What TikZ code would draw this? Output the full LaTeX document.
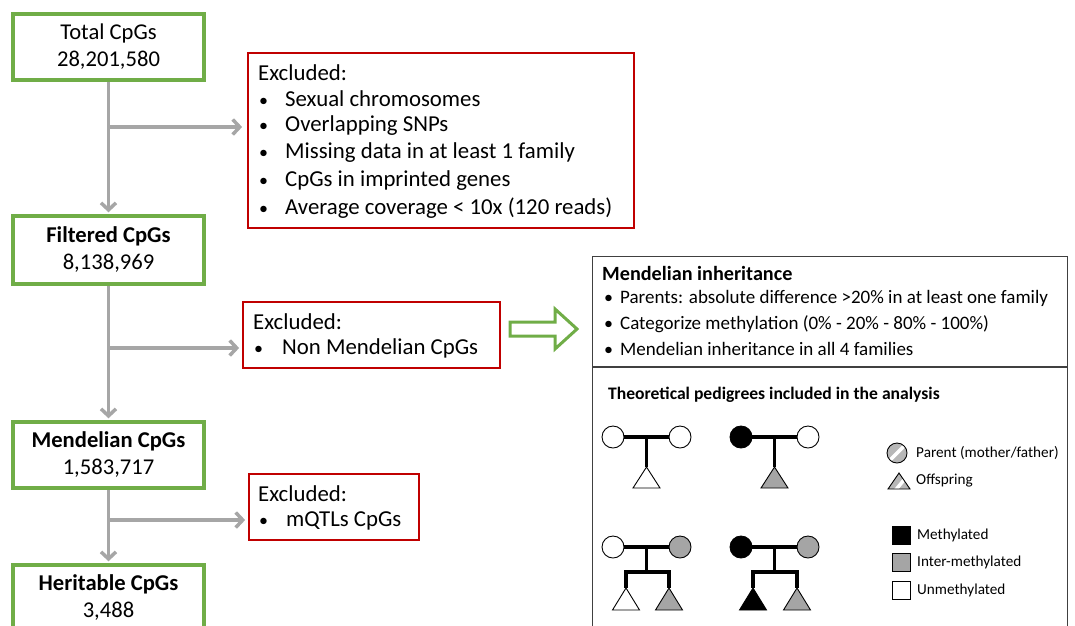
\documentclass[tikz,border=0pt]{standalone}
\usepackage{fontspec}
\setmainfont{Carlito}
\usetikzlibrary{arrows.meta}
\definecolor{ggreen}{HTML}{70AD47}
\definecolor{rred}{HTML}{C00000}
\definecolor{lgray}{HTML}{A6A6A6}
\definecolor{pgray}{HTML}{A5A5A5}
\definecolor{pborder}{HTML}{404040}
\newcommand{\bul}{{\fontsize{18}{18}\selectfont •}}
\begin{document}
\begin{tikzpicture}[x=1pt,y=-1pt,
  gbox/.style={draw=ggreen,line width=3.5pt,minimum width=191pt,minimum height=66pt,inner sep=0pt,align=center,font=\fontsize{22.6}{27}\selectfont},
  rbox/.style={draw=rred,line width=1.8pt,inner sep=0pt},
  etext/.style={anchor=west,inner sep=0pt,font=\fontsize{22.8}{27}\selectfont},
  garrow/.style={draw=lgray,line width=3.5pt,-{Straight Barb[length=7pt,width=15pt]}},
  ptext/.style={anchor=west,inner sep=0pt,font=\fontsize{19}{22}\selectfont},
  ltext/.style={anchor=west,inner sep=0pt,font=\fontsize{15.2}{17}\selectfont},
  pcirc/.style={circle,draw=black,line width=0.9pt,minimum size=22pt,inner sep=0pt},
  ped/.style={line width=3.5pt,line cap=butt},
  tri/.style={draw=black,line width=0.9pt,line join=miter}
]
\useasboundingbox (0,0) rectangle (1075,625);
\clip (0,0) rectangle (1075,625);

% green boxes
\node[gbox] (total) at (108.5,47) {Total CpGs\\28,201,580};
\node[gbox,minimum height=68pt] (filt) at (108.5,250) {\textbf{Filtered CpGs}\\8,138,969};
\node[gbox] (mend) at (108.5,455) {\textbf{Mendelian CpGs}\\1,583,717};
\node[gbox] (her) at (108.5,598) {\textbf{Heritable CpGs}\\3,488};

% red boxes
\node[rbox,minimum width=386pt,minimum height=175pt] (ex1) at (441,140.5) {};
\node[etext] (ex1h) at (258,73) {Excluded:};
\node[etext] (ex1b1) at (259,99) {\bul\hspace{17pt}Sexual chromosomes};
\node[etext] (ex1b2) at (259,126) {\bul\hspace{17pt}Overlapping SNPs};
\node[etext] (ex1b3) at (259,153) {\bul\hspace{17pt}Missing data in at least 1 family};
\node[etext] (ex1b4) at (259,181) {\bul\hspace{17pt}CpGs in imprinted genes};
\node[etext] (ex1b5) at (259,208) {\bul\hspace{17pt}Average coverage < 10x (120 reads)};

\node[rbox,minimum width=257pt,minimum height=66pt] (ex2) at (371.5,335) {};
\node[etext] (ex2h) at (253,322) {Excluded:};
\node[etext] (ex2b1) at (254,348) {\bul\hspace{19pt}Non Mendelian CpGs};

\node[rbox,minimum width=170pt,minimum height=66pt] (ex3) at (334,507) {};
\node[etext] (ex3h) at (258,494) {Excluded:};
\node[etext] (ex3b1) at (259,521) {\bul\hspace{18pt}mQTLs CpGs};

% gray connectors
\coordinate (j1) at (108.5,127);
\coordinate (j2) at (108.5,348);
\coordinate (j3) at (108.5,520);
\draw[garrow,shorten >=2pt] (total) -- (filt);
\draw[garrow,shorten >=5pt] (j1) -- (ex1.west |- j1);
\draw[garrow,shorten >=2pt] (filt) -- (mend);
\draw[garrow,shorten >=3pt] (j2) -- (ex2.west |- j2);
\draw[garrow,shorten >=2pt] (mend) -- (her);
\draw[garrow,shorten >=3pt] (j3) -- (ex3.west |- j3);

% green hollow arrow
\draw[ggreen,line width=3pt,line join=miter] (510,322) -- (555,322) -- (555,309) -- (577,329) -- (555,349) -- (555,336) -- (510,336) -- cycle;

% right panel
\node[draw=pborder,line width=1.2pt,minimum width=475pt,minimum height=390pt,inner sep=0pt,anchor=north west] (panel) at (592,256) {};
\draw[pborder,line width=1.2pt] (592,367) -- (1067,367);
\node[anchor=west,inner sep=0pt,font=\fontsize{20.2}{22}\selectfont\bfseries] (mh) at (602,273) {Mendelian inheritance};
\node[ptext] (mb1) at (604,298) {\bul\hspace{7pt}Parents: absolute difference >20\% in at least one family};
\node[ptext] (mb2) at (604,324) {\bul\hspace{7pt}Categorize methylation (0\% - 20\% - 80\% - 100\%)};
\node[ptext] (mb3) at (604,349) {\bul\hspace{7pt}Mendelian inheritance in all 4 families};
\node[anchor=west,inner sep=0pt,font=\fontsize{17.6}{19}\selectfont\bfseries] (th) at (608,395) {Theoretical pedigrees included in the analysis};

% pedigree 1
\node[pcirc,fill=white] (p1a) at (613,437) {};
\node[pcirc,fill=white] (p1b) at (680,437) {};
\draw[ped] (p1a) -- (p1b);
\coordinate (p1j) at (646.5,437);
\coordinate (p1t) at (646.5,467);
\draw[ped] (p1j) -- (p1t);
\draw[tri,fill=white] (p1t) -- ++(13.5,21) -- ++(-27,0) -- cycle;

% pedigree 2
\node[pcirc,fill=black] (p2a) at (741,437) {};
\node[pcirc,fill=white] (p2b) at (808,437) {};
\draw[ped] (p2a) -- (p2b);
\coordinate (p2j) at (774.5,437);
\coordinate (p2t) at (774.5,467);
\draw[ped] (p2j) -- (p2t);
\draw[tri,fill=pgray] (p2t) -- ++(13.5,21) -- ++(-27,0) -- cycle;

% pedigree 3
\node[pcirc,fill=white] (p3a) at (613,547) {};
\node[pcirc,fill=pgray] (p3b) at (680,547) {};
\draw[ped] (p3a) -- (p3b);
\coordinate (p3j) at (646.5,547);
\coordinate (p3k) at (646.5,572);
\coordinate (p3l) at (626,572);
\coordinate (p3r) at (669,572);
\coordinate (p3lt) at (626,588);
\coordinate (p3rt) at (669,588);
\draw[ped] (p3j) -- (p3k);
\draw[ped,line join=miter] (p3lt) -- (p3l) -- (p3r) -- (p3rt);
\draw[tri,fill=white] (p3lt) -- ++(13.5,22) -- ++(-27,0) -- cycle;
\draw[tri,fill=pgray] (p3rt) -- ++(13.5,22) -- ++(-27,0) -- cycle;

% pedigree 4
\node[pcirc,fill=black] (p4a) at (741,547) {};
\node[pcirc,fill=pgray] (p4b) at (808,547) {};
\draw[ped] (p4a) -- (p4b);
\coordinate (p4j) at (774.5,547);
\coordinate (p4k) at (774.5,572);
\coordinate (p4l) at (753,572);
\coordinate (p4r) at (797,572);
\coordinate (p4lt) at (753,588);
\coordinate (p4rt) at (797,588);
\draw[ped] (p4j) -- (p4k);
\draw[ped,line join=miter] (p4lt) -- (p4l) -- (p4r) -- (p4rt);
\draw[tri,fill=black] (p4lt) -- ++(13.5,22) -- ++(-27,0) -- cycle;
\draw[tri,fill=pgray] (p4rt) -- ++(13.5,22) -- ++(-27,0) -- cycle;

% legend
\begin{scope}
  \clip (897,453) circle (10);
  \fill[pgray!80] (885,441) rectangle (909,465);
  \draw[white,line width=3.5pt] (886,464) -- (908,442);
\end{scope}
\node[circle,draw=black,line width=0.9pt,minimum size=20pt,inner sep=0pt] (lgc) at (897,453) {};
\node[ltext] (lgct) at (916,453) {Parent (mother/father)};
\begin{scope}
  \clip (899,473) -- (910,489) -- (888,489) -- cycle;
  \fill[pgray!80] (886,471) rectangle (912,491);
  \draw[white,line width=3.5pt] (894,492) -- (908,475);
\end{scope}
\draw[tri] (899,473) -- (910,489) -- (888,489) -- cycle;
\node[ltext] (lgtt) at (916,481) {Offspring};
\node[draw=black,fill=black,line width=0.9pt,minimum size=18pt,inner sep=0pt] (lgm) at (901,535) {};
\node[ltext] (lgmt) at (917,535) {Methylated};
\node[draw=black,fill=pgray,line width=0.9pt,minimum size=18pt,inner sep=0pt] (lgi) at (901,562) {};
\node[ltext] (lgit) at (917,562) {Inter-methylated};
\node[draw=black,fill=white,line width=0.9pt,minimum size=18pt,inner sep=0pt] (lgu) at (901,590) {};
\node[ltext] (lgut) at (917,590) {Unmethylated};
\end{tikzpicture}
\end{document}
